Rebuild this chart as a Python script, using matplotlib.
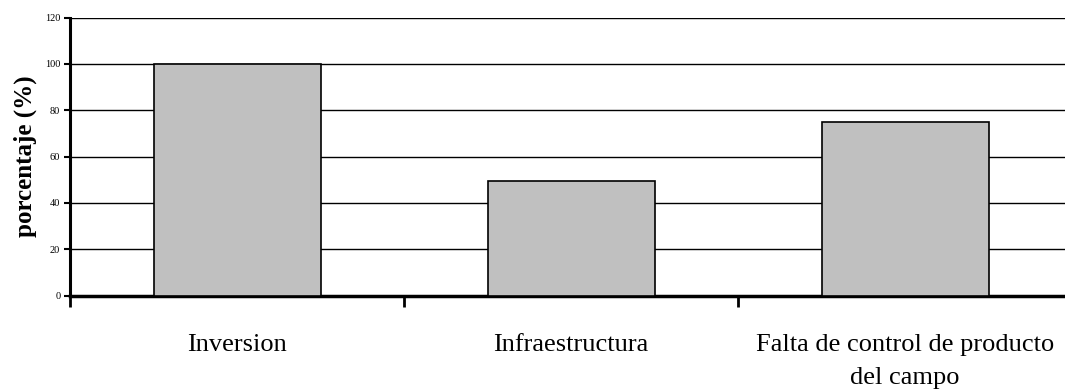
import matplotlib
matplotlib.use("Agg")
import matplotlib.pyplot as plt

categories = ["Inversion", "Infraestructura", "Falta de control de producto\ndel campo"]
values = [100, 49.5, 75]
y_ticks = [0, 20, 40, 60, 80, 100, 120]

plt.rcParams["font.family"] = ["Liberation Serif", "DejaVu Serif"]

fig = plt.figure(figsize=(10.65, 3.91), dpi=100)
ax = fig.add_axes([70 / 1065, 1 - 295.5 / 391, 1002 / 1065, 278 / 391])

x = range(len(categories))
ax.bar(x, values, width=0.5, color="#c0c0c0", edgecolor="black", linewidth=1.2, zorder=3)

ax.set_xlim(-0.5, 2.5)
ax.set_ylim(0, 120)
ax.set_yticks(y_ticks)
ax.set_yticklabels([str(t) for t in y_ticks], fontsize=7.5)
ax.yaxis.grid(True, color="black", linewidth=1.0, zorder=0)

ax.set_xticks(list(x))
ax.set_xticklabels(categories, fontsize=19, linespacing=1.6)
ax.tick_params(axis="x", which="major", length=0, pad=28)
ax.set_xticks([-0.5, 0.5, 1.5], minor=True)
ax.tick_params(axis="x", which="minor", length=8, width=2, direction="out")
ax.tick_params(axis="y", length=4, width=1.5, pad=3)

ax.set_ylabel("porcentaje (%)", fontsize=18, fontweight="bold", labelpad=6)

for side in ("top", "right"):
    ax.spines[side].set_visible(False)
ax.spines["left"].set_linewidth(2.2)
ax.spines["bottom"].set_linewidth(2.5)

fig.savefig("out.png", dpi=100)
